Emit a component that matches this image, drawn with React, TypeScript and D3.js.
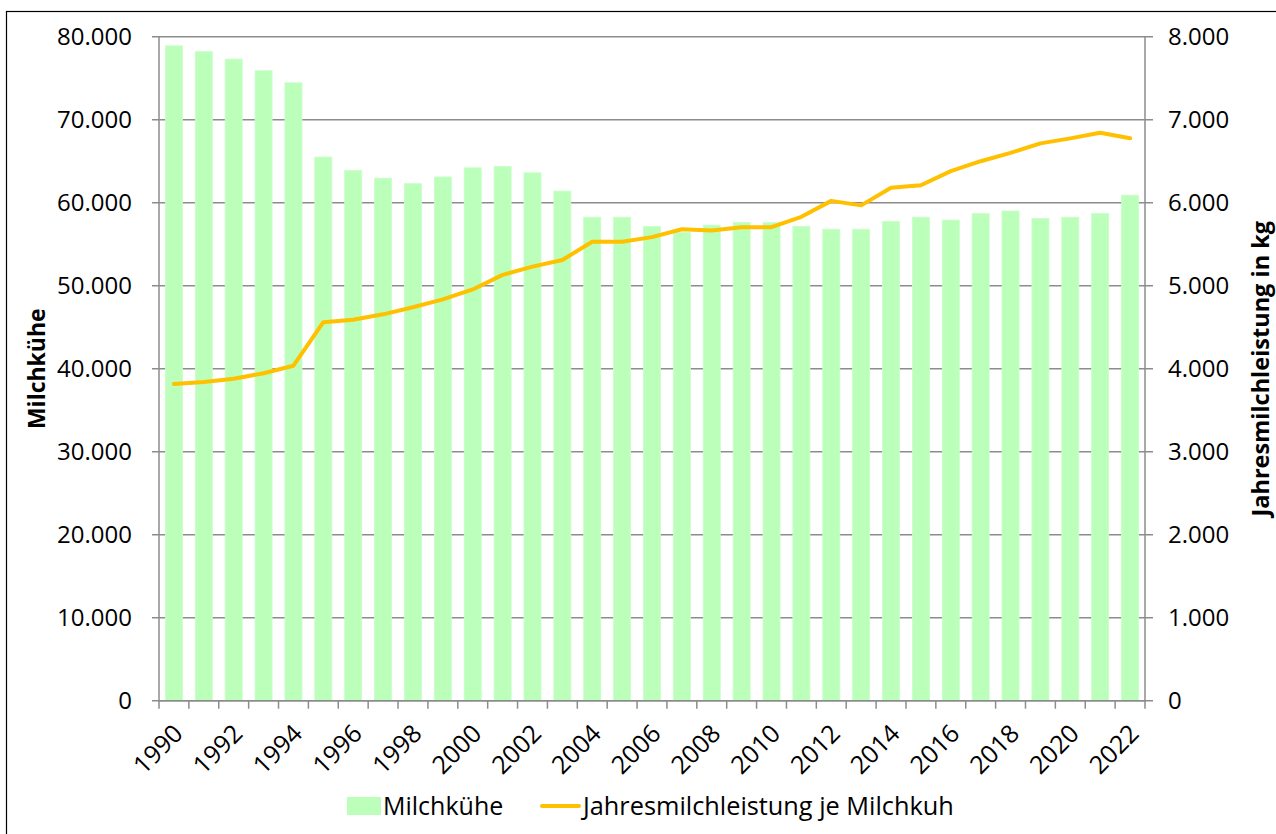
import React from "react";
import * as d3 from "d3";

const years = ["1990","1991","1992","1993","1994","1995","1996","1997","1998","1999","2000","2001","2002","2003","2004","2005","2006","2007","2008","2009","2010","2011","2012","2013","2014","2015","2016","2017","2018","2019","2020","2021","2022"];
const cows = [78900, 78200, 77300, 75900, 74450, 65500, 63900, 62950, 62300, 63100, 64200, 64350, 63600, 61400, 58250, 58250, 57150, 56400, 57300, 57600, 57600, 57150, 56800, 56800, 57750, 58250, 57900, 58700, 59000, 58100, 58250, 58700, 60900];
const milkYield = [3816, 3840, 3880, 3945, 4036, 4560, 4590, 4655, 4740, 4835, 4955, 5130, 5230, 5310, 5530, 5530, 5585, 5680, 5665, 5705, 5705, 5830, 6022, 5968, 6180, 6210, 6380, 6500, 6600, 6715, 6775, 6843, 6776];
const leftTicks = [0, 10000, 20000, 30000, 40000, 50000, 60000, 70000, 80000];
const rightTicks = [0, 1000, 2000, 3000, 4000, 5000, 6000, 7000, 8000];
const labelYears = years.filter((_, i) => i % 2 === 0);

const W = 1276, H = 834;
const L = 159, R = 1145, T = 36.7, B = 700.7;
const FONT = "'Open Sans', sans-serif";

const de = d3.formatLocale({ decimal: ",", thousands: ".", grouping: [3], currency: ["", "€"] });
const fmt = de.format(",");

export default function App() {
  const xCat = d3.scaleBand<string>().domain(years).range([L, R]).padding(0);
  const xBar = d3.scaleBand<string>().domain(years).range([L, R]).paddingInner(0.43).paddingOuter(0.215);
  const yL = d3.scaleLinear().domain([0, 80000]).range([B, T]);
  const yR = d3.scaleLinear().domain([0, 8000]).range([B, T]);
  const cx = (y: string) => (xCat(y) as number) + xCat.bandwidth() / 2;
  const line = d3.line<number>().x((_, i) => cx(years[i])).y(v => yR(v));
  const grid = "#8c8c8c";

  return (
    <>
      <style>{"body{margin:0}"}</style>
      <svg width={W} height={H} style={{ display: "block", fontFamily: FONT }}>
        <rect x={0} y={0} width={W} height={H} fill="#fff" />
        <rect x={6.5} y={11.5} width={W + 20} height={H + 20} fill="none" stroke="#000" strokeWidth={1.2} />
        {leftTicks.map(t => (
          <g key={"g" + t}>
            <line x1={L - 7} x2={R + 8} y1={yL(t)} y2={yL(t)} stroke={grid} strokeWidth={1.5} />
            <text x={132} y={yL(t)} dy="0.36em" textAnchor="end" fontSize={24} fill="#000">{fmt(t)}</text>
          </g>
        ))}
        {rightTicks.map(t => (
          <text key={"r" + t} x={1168} y={yR(t)} dy="0.36em" textAnchor="start" fontSize={24} fill="#000">{fmt(t)}</text>
        ))}
        {years.map((y, i) => (
          <rect key={"b" + y} x={xBar(y)} y={yL(cows[i])} width={xBar.bandwidth()} height={B - yL(cows[i])} fill="#bbffbb" stroke="#c8ffc8" strokeWidth={0.8} />
        ))}
        <line x1={L} x2={L} y1={T} y2={B} stroke={grid} strokeWidth={1.5} />
        <line x1={R} x2={R} y1={T} y2={B} stroke={grid} strokeWidth={1.5} />
        <line x1={L} x2={R} y1={B} y2={B} stroke={grid} strokeWidth={1.5} />
        {years.concat(["end"]).map((y, i) => {
          const x = L + i * xCat.bandwidth();
          return <line key={"t" + i} x1={x} x2={x} y1={B} y2={B + 8} stroke={grid} strokeWidth={1.5} />;
        })}
        <path d={line(milkYield) || ""} fill="none" stroke="#ffc000" strokeWidth={4} strokeLinejoin="round" strokeLinecap="round" />
        {labelYears.map(y => (
          <text key={"x" + y} transform={`translate(${cx(y) + 4},${B + 28}) rotate(-45)`} textAnchor="end" dy="0.36em" fontSize={25} fill="#000">{y}</text>
        ))}
        <text transform={`translate(37,${(T + B) / 2}) rotate(-90)`} textAnchor="middle" dy="0.36em" fontSize={23} fontWeight="bold" fill="#000">Milchkühe</text>
        <text transform={`translate(1261,${(T + B) / 2}) rotate(-90)`} textAnchor="middle" dy="0.36em" fontSize={23.5} fontWeight="bold" fill="#000">Jahresmilchleistung in kg</text>
        <rect x={347} y={797} width={34} height={18} fill="#bbffbb" />
        <text x={383} y={806} dy="0.36em" fontSize={25} fill="#000">Milchkühe</text>
        <line x1={542} x2={579} y1={806} y2={806} stroke="#ffc000" strokeWidth={4} strokeLinecap="round" />
        <text x={583} y={806} dy="0.36em" fontSize={25.3} fill="#000">Jahresmilchleistung je Milchkuh</text>
      </svg>
    </>
  );
}
